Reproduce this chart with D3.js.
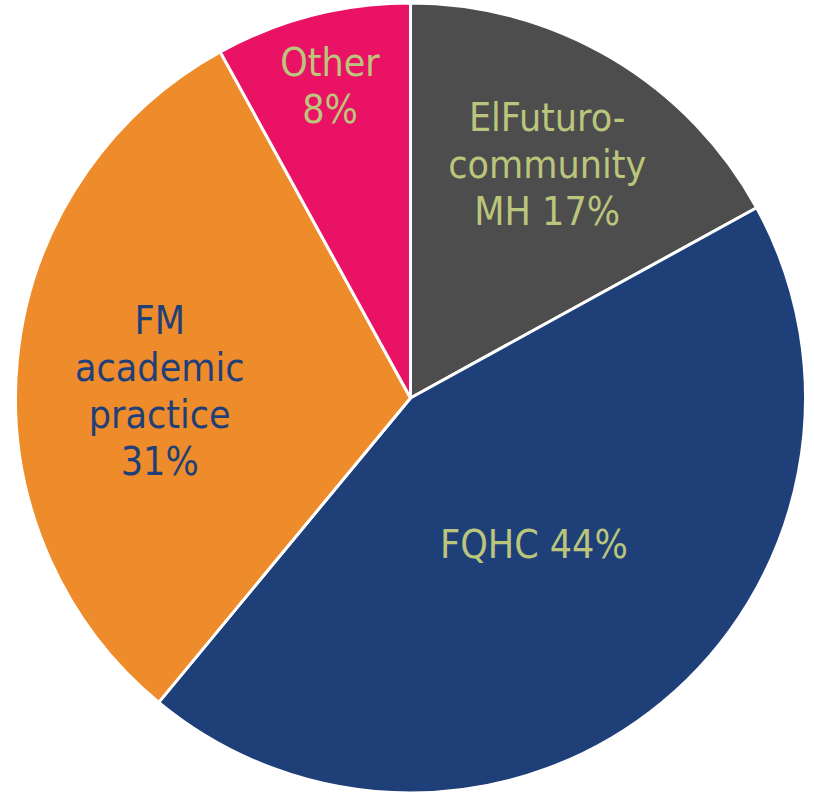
<!DOCTYPE html>
<html><head><meta charset="utf-8">
<script src="https://cdn.jsdelivr.net/npm/d3@7"></script>
<style>html,body{margin:0;padding:0;background:#fff;}svg{display:block;}</style>
</head><body>
<svg id="chart" width="814" height="792"></svg>
<script>
const categories = ["ElFuturo-community MH", "FQHC", "FM academic practice", "Other"];
const values = [17, 44, 31, 8];
const labelLines = [["ElFuturo-", "community", "MH 17%"], ["FQHC 44%"], ["FM", "academic", "practice", "31%"], ["Other", "8%"]];
const colors = ["#4d4d4d", "#1f3f79", "#ee8b2b", "#ea1265"];
const textColors = ["#bbc57b", "#bbc57b", "#1f3f79", "#bbc57b"];
const labelRadius = [0.67, 0.49, 0.63, 0.82];
const labelShiftY = [-5, -2, 17, 2];
const labelShiftX = [2, 0, -3, 0];

const svg = d3.select("#chart");
const cx = 410.5, cy = 398, R = 395;
const g = svg.append("g").attr("transform", `translate(${cx},${cy})`);
const pie = d3.pie().sort(null).value(d => d)(values);
const arc = d3.arc().innerRadius(0).outerRadius(R);
g.selectAll("path").data(pie).join("path")
  .attr("d", arc).attr("fill", (d, i) => colors[i])
  .attr("stroke", "#fff").attr("stroke-width", 3).attr("stroke-linejoin", "round");

const lineH = 47;
pie.forEach((d, i) => {
  const r = R * labelRadius[i];
  const c = d3.arc().innerRadius(r).outerRadius(r).centroid(d);
  const x = c[0] + labelShiftX[i], y = c[1] + labelShiftY[i];
  const lines = labelLines[i];
  const t = g.append("text").attr("text-anchor", "middle")
    .attr("font-family", "'DejaVu Sans Condensed', 'DejaVu Sans', sans-serif")
    .attr("font-stretch", "condensed")
    .attr("font-size", 39).attr("fill", textColors[i]);
  lines.forEach((l, k) => {
    t.append("tspan").attr("x", x)
      .attr("y", y + (k - (lines.length - 1) / 2) * lineH + 13).text(l);
  });
});
</script>
</body></html>
